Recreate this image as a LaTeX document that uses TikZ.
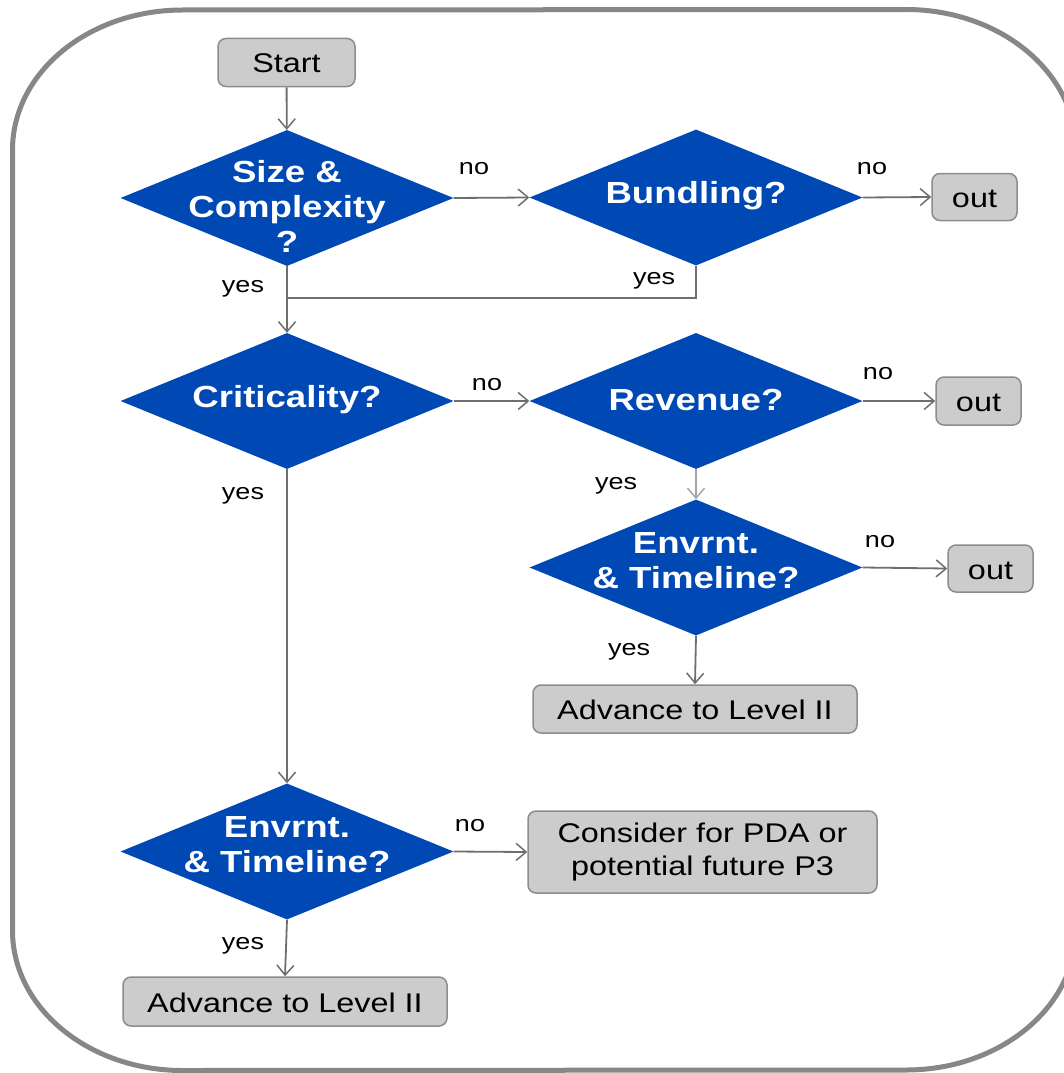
\documentclass[tikz,border=0pt]{standalone}
\usepackage{fontspec}
\setmainfont[FakeStretch=1.2]{Liberation Sans}
\usetikzlibrary{shapes.geometric,arrows.meta}
\definecolor{qblue}{HTML}{0048B4}
\definecolor{boxfill}{HTML}{CCCCCC}
\definecolor{boxline}{HTML}{8C8C8C}
\definecolor{wiregray}{HTML}{6E6E6E}
\definecolor{wirelight}{HTML}{A6A6A6}
\definecolor{framegray}{HTML}{878787}
\begin{document}
\begin{tikzpicture}[x=1pt,y=-1pt,
  decision/.style={diamond, fill=qblue, inner sep=0pt, minimum width=333pt,
    minimum height=136pt, shape aspect=2.45},
  qtext/.style={text=white, font=\fontsize{30.5}{35}\selectfont\bfseries,
    align=center, inner sep=0pt},
  stepbox/.style={draw=boxline, fill=boxfill, line width=1.5pt, rounded corners=8pt,
    inner sep=0pt, font=\fontsize{27}{33}\selectfont, align=center,
    text height=21pt, text depth=0pt},
  link/.style={draw=wiregray, line width=1.8pt},
  conn/.style={link, -{Straight Barb[length=10pt,width=17pt,line width=1.5pt]}},
  answer/.style={font=\fontsize{22.5}{26}\selectfont, anchor=base, inner sep=0pt}
]
\useasboundingbox (0,0) rectangle (1064,1073);

% outer rounded frame (its right side runs past the page edge)
\draw[draw=framegray, line width=5pt]
  (12.5,150) arc[start angle=180,end angle=90,x radius=170pt,y radius=140pt]
  -- (906,9.5) arc[start angle=90,end angle=0,x radius=170pt,y radius=140pt]
  -- (1076,930) arc[start angle=0,end angle=-90,x radius=170pt,y radius=140pt]
  -- (182.5,1070.5) arc[start angle=-90,end angle=-180,x radius=170pt,y radius=140pt]
  -- cycle;

% start
\node[stepbox, minimum width=137pt, minimum height=48pt] (start) at (286.5,62.5) {Start};

% decisions
\node[decision] (d1) at (287,198) {};
\node[qtext] (d1t) at (287,206.5) {Size \&\\Complexity\\?};
\node[decision] (bund) at (696,197.5) {};
\node[qtext] (bundt) at (696,196) {Bundling?};
\node[decision] (d2) at (287,401) {};
\node[qtext] (d2t) at (287,400) {Criticality?};
\node[decision] (rev) at (696,401) {};
\node[qtext] (revt) at (696,400) {Revenue?};
\node[decision] (env1) at (696,567.5) {};
\node[qtext] (env1t) at (696,560.5) {Envrnt.\\\& Timeline?};
\node[decision] (d3) at (287,851.5) {};
\node[qtext] (d3t) at (287,845) {Envrnt.\\\& Timeline?};

% outcome boxes
\node[stepbox, minimum width=85pt, minimum height=47pt] (out1) at (974.5,197) {out};
\node[stepbox, minimum width=85pt, minimum height=48pt] (out2) at (978.5,401) {out};
\node[stepbox, minimum width=85pt, minimum height=47pt] (out3) at (990.5,568.5) {out};
\node[stepbox, minimum width=324pt, minimum height=48pt] (adv1) at (695,709) {Advance to Level II};
\node[stepbox, minimum width=349pt, minimum height=82pt, text height=, text depth=] (cons) at (702.5,852) {Consider for PDA or\\potential future P3};
\node[stepbox, minimum width=324pt, minimum height=49pt] (adv2) at (285,1001.5) {Advance to Level II};

% connectors
\coordinate (merge) at (287,298);
\draw[conn] (start) -- (d1);
\draw[conn] (d1.east) -- (bund.west);
\draw[conn] (bund.east) -- (out1.west);
\draw[link] (bund.south) |- (merge);
\draw[conn] (d1.south) -- (d2.north);
\draw[conn] (d2.east) -- (rev.west);
\draw[conn] (rev.east) -- (out2.west);
\draw[conn, draw=wirelight] (rev.south) -- (env1.north);
\draw[conn] (env1.east) -- (out3.west);
\draw[conn] (env1.south) -- (adv1.north);
\draw[conn] (d2.south) -- (d3.north);
\draw[conn] (d3.east) -- (cons.west);
\draw[conn] (d3.south) -- (adv2.north);

% branch labels
\node[answer] (a1) at (474,174) {no};
\node[answer] (a2) at (872,174) {no};
\node[answer] (a3) at (654,284) {yes};
\node[answer] (a4) at (243,292) {yes};
\node[answer] (a5) at (487,390) {no};
\node[answer] (a6) at (878,379) {no};
\node[answer] (a7) at (243,499) {yes};
\node[answer] (a8) at (616,489) {yes};
\node[answer] (a9) at (880,547) {no};
\node[answer] (a10) at (629,655) {yes};
\node[answer] (a11) at (470,831) {no};
\node[answer] (a12) at (243,949) {yes};
\end{tikzpicture}
\end{document}
